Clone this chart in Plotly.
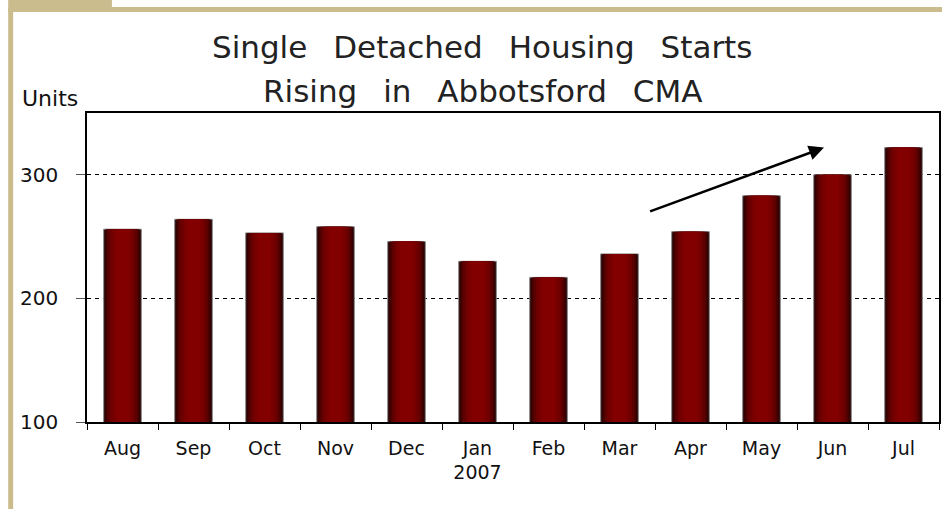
import plotly.graph_objects as go

months = ["Aug", "Sep", "Oct", "Nov", "Dec", "Jan<br>2007", "Feb", "Mar", "Apr", "May", "Jun", "Jul"]
starts = [256, 264, 253, 258, 246, 230, 217, 236, 254, 283, 300, 322]
y_ticks = [100, 200, 300]
sp = "\u00a0\u00a0\u2009"
title_lines = [sp.join(["Single", "Detached", "Housing", "Starts"]),
               sp.join(["Rising", "in", "Abbotsford", "CMA"])]
y_label = "Units"

# gradient emulation: layered bars (dark edge -> bright centre)
layers = [(0.53, "#260000"), (0.48, "#420000"), (0.42, "#5c0000"), (0.35, "#6e0000"), (0.27, "#7a0000"), (0.18, "#820000")]

W, H = 944, 509
L, R, T, B = 87, 3, 113, 87
pw, ph = W - L - R, H - T - B

def px(x):
    return (x - L) / pw

def py(y):
    return (H - B - y) / ph

fig = go.Figure()
for i, (w, c) in enumerate(layers):
    fig.add_trace(go.Bar(
        x=months, y=starts, width=w, marker_color=c,
        marker_line=dict(color="#8a8a8a" if i == 0 else c, width=1 if i == 0 else 0),
        hoverinfo="skip" if i else "x+y", showlegend=False))

font = "DejaVu Sans"
fig.update_layout(
    width=W, height=H, barmode="overlay",
    margin=dict(l=L, r=R, t=T, b=B),
    paper_bgcolor="white", plot_bgcolor="white",
    font=dict(family=font, color="#111111", size=20),
    showlegend=False,
)
fig.update_xaxes(
    type="category", showline=True, linecolor="black", linewidth=1.5, mirror=True,
    ticks="outside", tickson="boundaries", ticklen=6, tickcolor="black", tickwidth=1,
    showgrid=False, tickfont=dict(size=19, family=font), ticklabelstandoff=8,
)
fig.update_yaxes(
    range=[100, 350], tickvals=y_ticks, showline=True, linecolor="black", linewidth=1.5,
    mirror=True, ticks="outside", ticklen=9, tickcolor="#555555", tickwidth=1,
    showgrid=True, gridcolor="black", griddash="4px,4px", gridwidth=1,
    tickfont=dict(size=20, family=font), ticklabelstandoff=14, zeroline=False,
)

tan = "#cbbc8e"
shapes = [
    dict(type="rect", xref="paper", yref="paper", x0=px(8), x1=px(112), y0=py(8), y1=py(0),
         fillcolor=tan, line_width=0, layer="above"),
    dict(type="rect", xref="paper", yref="paper", x0=px(8), x1=px(944), y0=py(12), y1=py(7),
         fillcolor=tan, line_width=0, layer="above"),
    dict(type="rect", xref="paper", yref="paper", x0=px(8), x1=px(13), y0=py(509), y1=py(8),
         fillcolor=tan, line_width=0, layer="above"),
]
fig.update_layout(shapes=shapes)

fig.add_annotation(text=title_lines[0], xref="paper", yref="paper", x=px(483), y=py(47),
                   showarrow=False, font=dict(size=31, family=font, color="#222222"),
                   xanchor="center", yanchor="middle")
fig.add_annotation(text=title_lines[1], xref="paper", yref="paper", x=px(483), y=py(91),
                   showarrow=False, font=dict(size=31, family=font, color="#222222"),
                   xanchor="center", yanchor="middle")
fig.add_annotation(text=y_label, xref="paper", yref="paper", x=px(20), y=py(98),
                   showarrow=False, font=dict(size=22, family=font), xanchor="left", yanchor="middle")
# trend arrow
fig.add_annotation(xref="x", yref="y", axref="x", ayref="y",
                   x=9.88, y=322, ax=7.41, ay=270, text="", showarrow=True,
                   arrowhead=2, arrowsize=1.2, arrowwidth=2.5, arrowcolor="black")

fig.write_html("out.html", config={"displayModeBar": False},
               post_script="document.body.style.margin='0px';")
